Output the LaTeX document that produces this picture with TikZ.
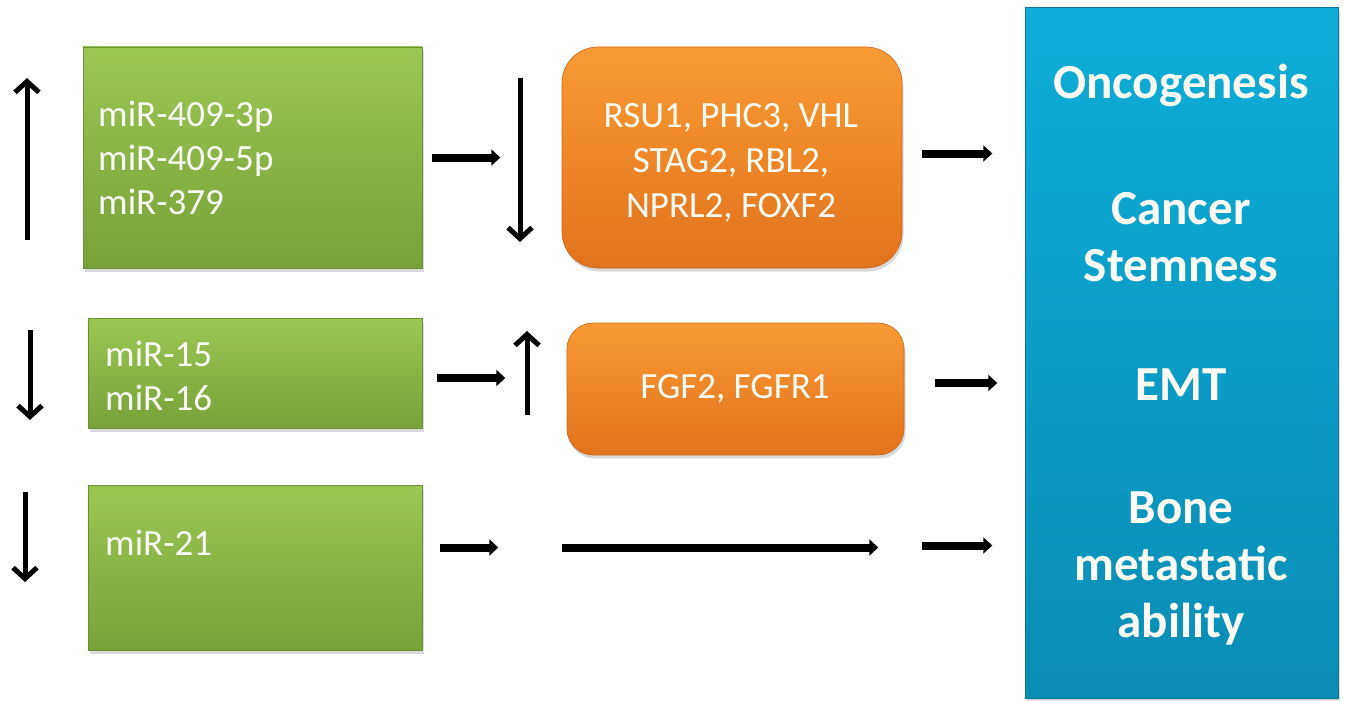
\documentclass[tikz,border=0pt]{standalone}
\usepackage{fontspec}
\setmainfont{Carlito}
\usetikzlibrary{arrows.meta,shadows}
\definecolor{gtop}{HTML}{9CC654}
\definecolor{gbot}{HTML}{78A139}
\definecolor{otop}{HTML}{F89B33}
\definecolor{obot}{HTML}{E2731E}
\definecolor{btop}{HTML}{0DADD7}
\definecolor{bbot}{HTML}{0A8DB5}
\definecolor{txt}{HTML}{FBFBF5}
\tikzset{
  box/.style={inner sep=0pt, drop shadow={opacity=0.3,shadow xshift=1.5pt,shadow yshift=-3.5pt}},
  gbox/.style={box, rectangle, top color=gtop, bottom color=gbot, draw=gbot!90!black, line width=0.6pt},
  obox/.style={box, rectangle, rounded corners=#1, top color=otop, bottom color=obot, draw=obot!90!black, line width=0.6pt},
  bbox/.style={box, rectangle, top color=btop, bottom color=bbot, draw=bbot!85!black, line width=1pt},
  gtext/.style={text=txt, align=left, anchor=west, inner sep=0pt, font=\fontsize{37}{44}\selectfont},
  otext/.style={text=txt, align=center, inner sep=0pt, font=\fontsize{37}{45}\selectfont},
  btext/.style={text=txt, align=center, inner sep=0pt, font=\bfseries\fontsize{49}{57}\selectfont},
  varrow/.style={line width=5pt, -{Straight Barb[length=11pt,width=24pt,line width=5pt]}},
  harrow/.style={line width=8pt, -{Triangle[length=9pt,width=16pt]}},
}
\begin{document}
\begin{tikzpicture}[x=1pt,y=-1pt]
\useasboundingbox (0,0) rectangle (1347,701);
% boxes
\node[gbox, minimum width=339pt, minimum height=221pt] (g1) at (252.5,157.5) {};
\node[gbox, minimum width=334pt, minimum height=110pt] (g2) at (255,373) {};
\node[gbox, minimum width=334pt, minimum height=165pt] (g3) at (255,567.5) {};
\node[obox=36pt, minimum width=340pt, minimum height=221pt] (o1) at (732,157.5) {};
\node[obox=26pt, minimum width=337pt, minimum height=132pt] (o2) at (735.5,389) {};
\node[bbox, minimum width=313pt, minimum height=690pt] (b) at (1181.5,353) {};
% texts
\node[gtext] (g1t) at (98,158) {miR-409-3p\\miR-409-5p\\miR-379};
\node[gtext] (g2t) at (105,376) {miR-15\\miR-16};
\node[gtext] (g3t) at (105,543) {miR-21};
\node[otext] (o1t) at (731,163) {RSU1, PHC3, VHL\\STAG2, RBL2,\\NPRL2, FOXF2};
\node[otext] (o2t) at (735,389) {FGF2, FGFR1};
\node[btext] (b1) at (1181,85) {Oncogenesis};
\node[btext] (b2) at (1181,237) {Cancer\\Stemness};
\node[btext] (b3) at (1181,385) {EMT};
\node[btext] (b4) at (1181,568) {Bone\\metastatic\\ability};
% up/down indicators
\draw[varrow] (27,240) -- (27,78);
\draw[varrow] (520,78) -- (520,242);
\draw[varrow] (30,330) -- (30,420);
\draw[varrow] (527,415) -- (527,331);
\draw[varrow] (25,492) -- (25,582);
% horizontal arrows
\draw[harrow] ([xshift=10pt]g1.east) -- ([xshift=78pt]g1.east);
\draw[harrow] ([xshift=20pt,yshift=4pt]o1.east) -- ([xshift=90pt,yshift=4pt]o1.east);
\draw[harrow] ([xshift=15pt,yshift=-5pt]g2.east) -- ([xshift=83pt,yshift=-5pt]g2.east);
\draw[harrow] ([xshift=31pt,yshift=6pt]o2.east) -- ([xshift=93pt,yshift=6pt]o2.east);
\draw[harrow] ([xshift=18pt,yshift=20pt]g3.east) -- ([xshift=76pt,yshift=20pt]g3.east);
\draw[harrow] ([xshift=140pt,yshift=20pt]g3.east) -- ([xshift=456pt,yshift=20pt]g3.east);
\draw[harrow] ([xshift=500pt,yshift=22pt]g3.east) -- ([xshift=570pt,yshift=22pt]g3.east);
\end{tikzpicture}
\end{document}
